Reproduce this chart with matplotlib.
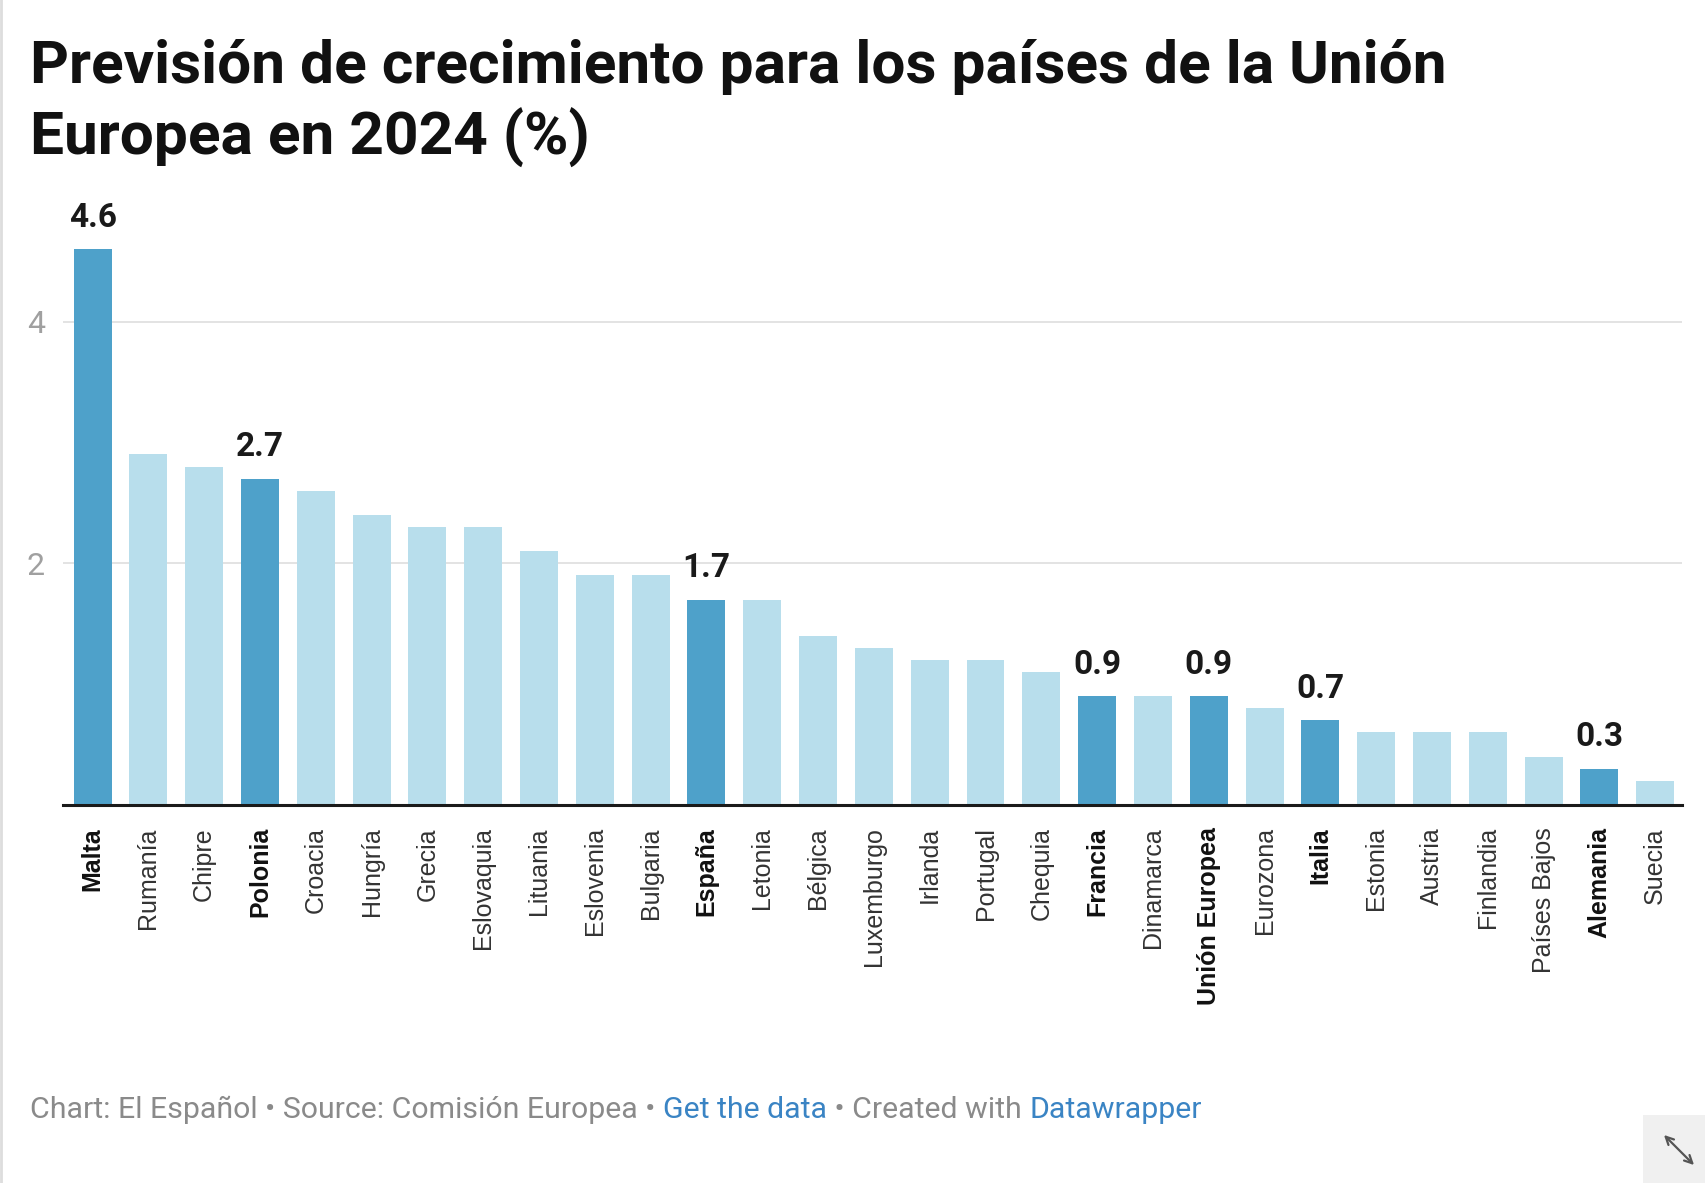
import matplotlib
matplotlib.use('Agg')
import matplotlib.pyplot as plt
from matplotlib.patches import Rectangle, FancyArrowPatch

# datos: previsión de crecimiento 2024 (%)
paises = ['Malta', 'Rumanía', 'Chipre', 'Polonia', 'Croacia', 'Hungría', 'Grecia',
          'Eslovaquia', 'Lituania', 'Eslovenia', 'Bulgaria', 'España', 'Letonia',
          'Bélgica', 'Luxemburgo', 'Irlanda', 'Portugal', 'Chequia', 'Francia',
          'Dinamarca', 'Unión Europea', 'Eurozona', 'Italia', 'Estonia', 'Austria',
          'Finlandia', 'Países Bajos', 'Alemania', 'Suecia']
valores = [4.6, 2.9, 2.8, 2.7, 2.6, 2.4, 2.3, 2.3, 2.1, 1.9, 1.9, 1.7, 1.7,
           1.4, 1.3, 1.2, 1.2, 1.1, 0.9, 0.9, 0.9, 0.8, 0.7, 0.6, 0.6, 0.6,
           0.4, 0.3, 0.2]
destacados = ['Malta', 'Polonia', 'España', 'Francia', 'Unión Europea', 'Italia', 'Alemania']
yticks = [2, 4]

W, H = 1706, 1183
fig = plt.figure(figsize=(W / 100, H / 100), dpi=100)
fig.patch.set_facecolor('white')

# ejes en pixeles
ax_l, ax_r, ax_t, ax_b = 63, 1682, 249, 805
ax = fig.add_axes([ax_l / W, 1 - ax_b / H, (ax_r - ax_l) / W, (ax_b - ax_t) / H])

oscuro = '#4ea1ca'
claro = '#b8deec'
colores = [oscuro if p in destacados else claro for p in paises]
x = list(range(len(paises)))
ax.bar(x, valores, width=0.68, color=colores, zorder=2)

for i, (p, v) in enumerate(zip(paises, valores)):
    if p in destacados:
        ax.annotate(f'{v:.1f}', (i, v), xytext=(0, 11), textcoords='offset points',
                    ha='center', va='bottom', fontsize=24, fontweight='bold',
                    family='Roboto', color='#1a1a1a')

ax.set_xlim(-0.53, len(paises) - 0.52)
ax.set_ylim(0, 4.6)
ax.set_yticks(yticks)
ax.set_yticklabels([str(t) for t in yticks], family='Roboto', fontsize=23, color='#a0a0a0')
ax.yaxis.grid(True, color='#e3e3e3', linewidth=1.4, zorder=0)
ax.tick_params(axis='y', length=0, pad=13)
ax.tick_params(axis='x', length=0, pad=16)
ax.set_xticks(x)
ax.set_xticklabels(paises, rotation=90, va='top', ha='center', family='Liberation Sans',
                   fontsize=18, color='#333333')
for lab in ax.get_xticklabels():
    if lab.get_text() in destacados:
        lab.set_fontweight('bold')
        lab.set_color('#111111')

for s in ['top', 'right', 'left']:
    ax.spines[s].set_visible(False)
ax.spines['bottom'].set_color('#1a1a1a')
ax.spines['bottom'].set_linewidth(2.2)
ax.spines['bottom'].set_zorder(3)

# titulo
fig.text(30 / W, 1 - 39 / H,
         'Previsión de crecimiento para los países de la Unión\nEuropea en 2024 (%)',
         ha='left', va='top', fontsize=43.5, fontweight='bold', family='Roboto',
         color='#111111', linespacing=1.27)

# pie
gris = '#8a8a8a'
azul = '#3a84c4'
partes = [('Chart: El Español • Source: Comisión Europea • ', gris),
          ('Get the data', azul),
          (' • Created with ', gris),
          ('Datawrapper', azul)]
fig.canvas.draw()
r = fig.canvas.get_renderer()
xp = 30
for txt, c in partes:
    t = fig.text(xp / W, 1 - 1110 / H, txt, ha='left', va='center', fontsize=21.8,
                 family='Roboto', color=c)
    xp += t.get_window_extent(renderer=r).width

# borde izquierdo
fig.add_artist(plt.Line2D([1.5 / W, 1.5 / W], [0, 1], color='#dddddd', linewidth=2))

# icono inferior derecho
fig.add_artist(Rectangle((1643 / W, 0), 63 / W, 68 / H, facecolor='#f0f0f0',
                         edgecolor='none', transform=fig.transFigure))
fig.add_artist(FancyArrowPatch((1662 / W, 1 - 1133 / H), (1696 / W, 1 - 1167 / H),
                               arrowstyle='<->', mutation_scale=14, color='#555555',
                               linewidth=1.6, transform=fig.transFigure))

fig.savefig('out.png', dpi=100, facecolor='white')
